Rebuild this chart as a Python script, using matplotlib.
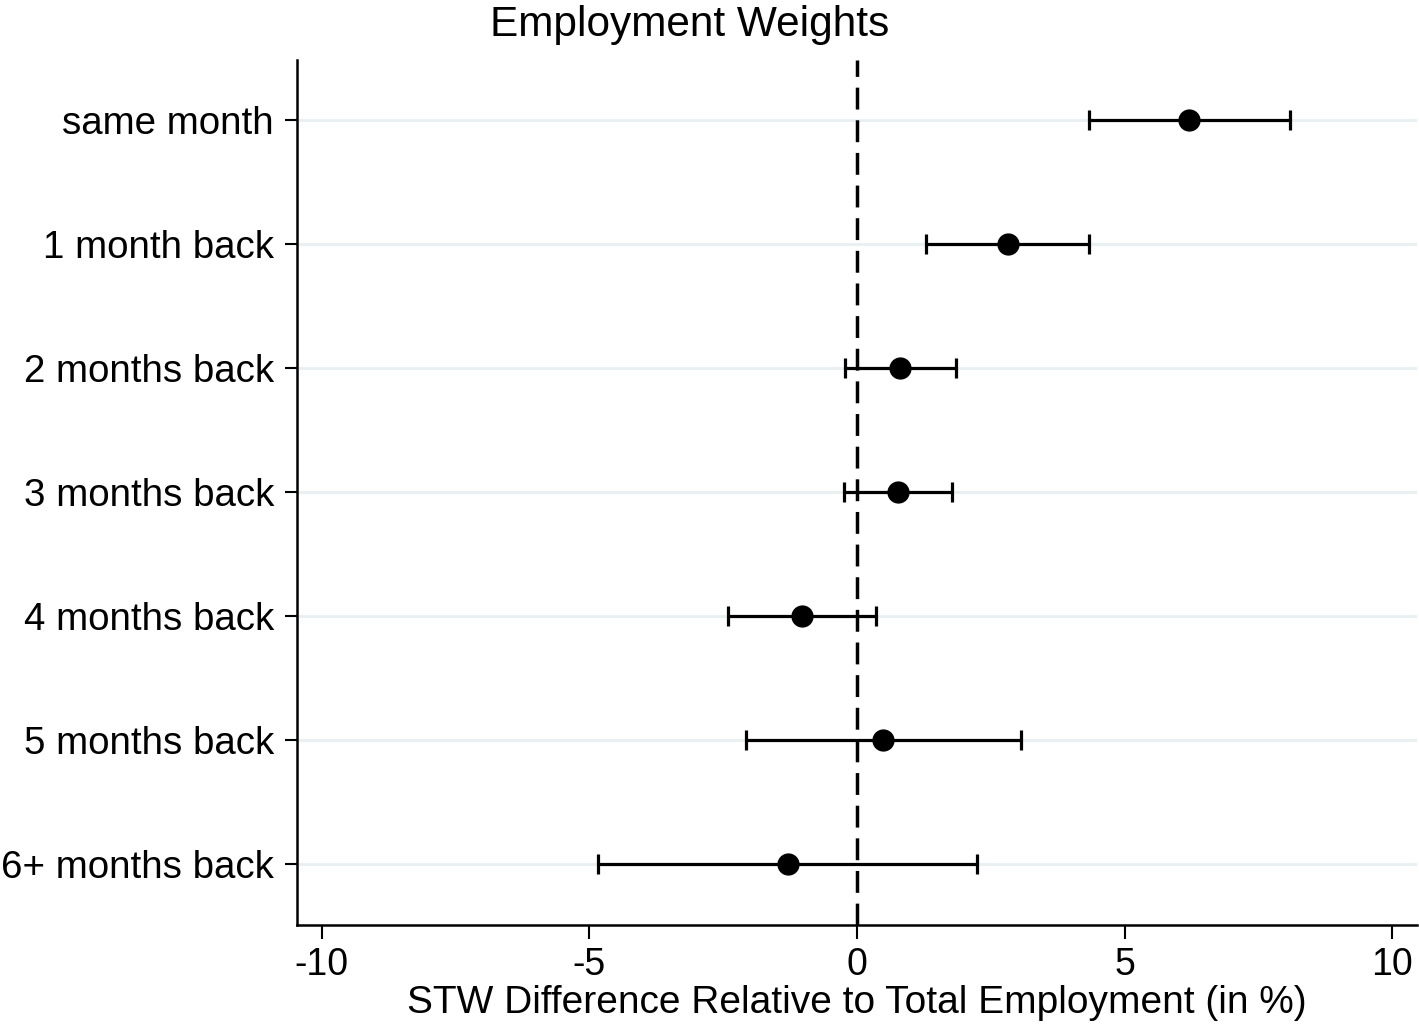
import numpy as np
import matplotlib
matplotlib.use("Agg")
import matplotlib.pyplot as plt

plt.rcParams['font.family'] = ['Liberation Sans', 'DejaVu Sans']

# coefficient plot values
labels = ["same month", "1 month back", "2 months back", "3 months back",
          "4 months back", "5 months back", "6+ months back"]
estimates = [6.20, 2.82, 0.80, 0.77, -1.03, 0.49, -1.29]
ci_low = [4.33, 1.29, -0.22, -0.24, -2.41, -2.07, -4.84]
ci_high = [8.09, 4.33, 1.85, 1.77, 0.35, 3.06, 2.24]
xticks = [-10, -5, 0, 5, 10]

est = np.array(estimates)
lo = est - np.array(ci_low)
hi = np.array(ci_high) - est
ypos = np.arange(len(labels))

fig = plt.figure(figsize=(14.19, 10.32), dpi=100)
ax = fig.add_axes([0.2093, 0.1037, 0.7893, 0.8382])

for y in ypos:
    ax.axhline(y, color="#e8f0f1", lw=2.2, zorder=0)

ax.axvline(0, color="black", lw=2.5, linestyle=(0, (6.3, 3.1)), zorder=1)

ax.errorbar(est, ypos, xerr=[lo, hi], fmt="o", color="black", ms=15,
            elinewidth=2.3, capsize=7, capthick=2.3, zorder=3)

ax.set_xlim(-10.46, 10.46)
ax.set_ylim(6.49, -0.484)
ax.set_yticks(ypos)
ax.set_yticklabels(labels)
ax.set_xticks(xticks)
ax.set_xticklabels([str(t) for t in xticks])

for s in ["top", "right"]:
    ax.spines[s].set_visible(False)
for s in ["left", "bottom"]:
    ax.spines[s].set_linewidth(1.8)

ax.tick_params(axis="y", length=8.5, width=1.5, labelsize=27.7, pad=8)
ax.tick_params(axis="x", length=10, width=1.5, labelsize=27, pad=6)

ax.set_xlabel("STW Difference Relative to Total Employment (in %)", fontsize=28, labelpad=1)
fig.text(690 / 1419, 1 - 25 / 1032, "Employment Weights", fontsize=30.5,
         ha="center", va="center")

fig.savefig("out.png", dpi=100)
